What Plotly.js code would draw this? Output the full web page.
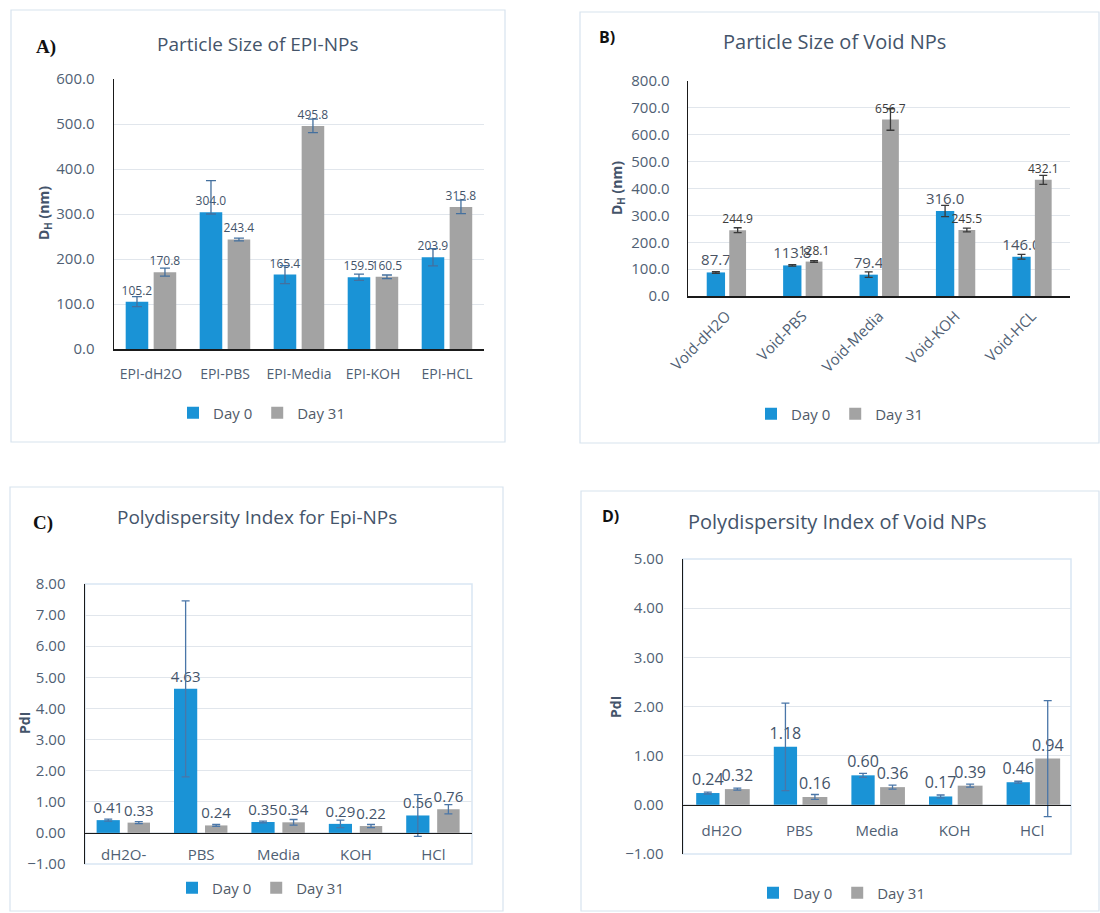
<!DOCTYPE html>
<html>
<head>
<meta charset="utf-8">
<script src="https://cdn.plot.ly/plotly-3.0.1.min.js"></script>
<style>
  html, body { margin: 0; padding: 0; background: #ffffff; }
  #chart { width: 1100px; height: 913px; }
</style>
</head>
<body>
<div id="chart"></div>
<script>
// ---- Data -------------------------------------------------------------
// A) Particle size of EPI-NPs (nm)
const catsA = ['EPI-dH2O', 'EPI-PBS', 'EPI-Media', 'EPI-KOH', 'EPI-HCL'];
const sizeEpiDay0 = [105.2, 304.0, 165.4, 159.5, 203.9];
const sizeEpiDay31 = [170.8, 243.4, 495.8, 160.5, 315.8];
const sizeEpiDay0ErrPlus = [11, 70, 20, 7, 19];
const sizeEpiDay0ErrMinus = [11, 4, 20, 7, 19];
const sizeEpiDay31Err = [9, 3, 15, 4, 15];

// B) Particle size of void NPs (nm)
const catsB = ['Void-dH2O', 'Void-PBS', 'Void-Media', 'Void-KOH', 'Void-HCL'];
const sizeVoidDay0 = [87.7, 113.8, 79.4, 316.0, 146.0];
const sizeVoidDay31 = [244.9, 128.1, 656.7, 245.5, 432.1];
const sizeVoidDay0Err = [3, 3, 10, 21, 9];
const sizeVoidDay31Err = [9, 3, 40, 7, 17];

// C) Polydispersity index of EPI-NPs
const catsC = ['dH2O-', 'PBS', 'Media', 'KOH', 'HCl'];
const pdiEpiDay0 = [0.41, 4.63, 0.35, 0.29, 0.56];
const pdiEpiDay31 = [0.33, 0.24, 0.34, 0.22, 0.76];
const pdiEpiDay0Err = [0.03, 2.83, 0.03, 0.12, 0.67];
const pdiEpiDay31Err = [0.03, 0.03, 0.09, 0.05, 0.15];

// D) Polydispersity index of void NPs
const catsD = ['dH2O', 'PBS', 'Media', 'KOH', 'HCl'];
const pdiVoidDay0 = [0.24, 1.18, 0.60, 0.17, 0.46];
const pdiVoidDay31 = [0.32, 0.16, 0.36, 0.39, 0.94];
const pdiVoidDay0Err = [0.02, 0.89, 0.04, 0.03, 0.02];
const pdiVoidDay31Err = [0.02, 0.05, 0.04, 0.03, 1.18];

const seriesNames = ['Day 0', 'Day 31'];

// ---- Styling ------------------------------------------------------------
const W = 1100, H = 913;
const FONT = 'Open Sans, sans-serif';
const SLATE = '#44546a';
const TICK = '#505f74';
const BLUE = '#1a93d6';
const GRAY = '#a3a3a3';
const GRID = '#e1e6ec';
const FRAME = '#d9e6f3';

// pixel helpers -> paper coordinates
const px = v => v / W;
const py = v => 1 - v / H;
const dom = (a, b, s) => s === 'x' ? [px(a), px(b)] : [py(b), py(a)];

function fmt(v, d) { return v.toFixed(d); }

function barPair(opt) {
  const common = {
    type: 'bar',
    xaxis: opt.xa, yaxis: opt.ya,
    legend: opt.legend,
    textposition: 'outside',
    cliponaxis: false,
    constraintext: 'none',
    hoverinfo: 'skip'
  };
  const t0 = Object.assign({}, common, {
    name: seriesNames[0],
    x: opt.cats, y: opt.d0,
    text: opt.d0.map(v => fmt(v, opt.dec)),
    textfont: { family: FONT, size: opt.lab0, color: opt.labColor0 },
    marker: { color: BLUE, line: { width: 0 } },
    width: opt.w0, offset: opt.o0,
    error_y: Object.assign({ type: 'data', color: opt.errColor, thickness: 1.3, width: opt.cap }, opt.e0)
  });
  const t1 = Object.assign({}, common, {
    name: seriesNames[1],
    x: opt.cats, y: opt.d31,
    text: opt.d31.map(v => fmt(v, opt.dec)),
    textfont: { family: FONT, size: opt.lab1, color: opt.labColor1 },
    marker: { color: GRAY, line: { width: 0 } },
    width: opt.w1, offset: opt.o1,
    error_y: Object.assign({ type: 'data', color: opt.errColor, thickness: 1.3, width: opt.cap }, opt.e1)
  });
  return [t0, t1];
}

const traces = []
  .concat(barPair({
    cats: catsA, d0: sizeEpiDay0, d31: sizeEpiDay31, dec: 1,
    e0: { symmetric: false, array: sizeEpiDay0ErrPlus, arrayminus: sizeEpiDay0ErrMinus },
    e1: { array: sizeEpiDay31Err },
    xa: 'x', ya: 'y', legend: 'legend',
    lab0: 12, lab1: 12, labColor0: SLATE, labColor1: SLATE,
    w0: 0.305, o0: -0.342, w1: 0.305, o1: 0.036, errColor: '#44709e', cap: 5
  }))
  .concat(barPair({
    cats: catsB, d0: sizeVoidDay0, d31: sizeVoidDay31, dec: 1,
    e0: { array: sizeVoidDay0Err }, e1: { array: sizeVoidDay31Err },
    xa: 'x2', ya: 'y2', legend: 'legend2',
    lab0: 15, lab1: 12, labColor0: '#4a5363', labColor1: '#3d3d3d',
    w0: 0.24, o0: -0.255, w1: 0.22, o1: 0.04, errColor: '#3a3a3a', cap: 4
  }))
  .concat(barPair({
    cats: catsC, d0: pdiEpiDay0, d31: pdiEpiDay31, dec: 2,
    e0: { array: pdiEpiDay0Err }, e1: { array: pdiEpiDay31Err },
    xa: 'x3', ya: 'y3', legend: 'legend3',
    lab0: 15, lab1: 15, labColor0: SLATE, labColor1: SLATE,
    w0: 0.30, o0: -0.35, w1: 0.29, o1: 0.05, errColor: '#4a76a8', cap: 4
  }))
  .concat(barPair({
    cats: catsD, d0: pdiVoidDay0, d31: pdiVoidDay31, dec: 2,
    e0: { array: pdiVoidDay0Err }, e1: { array: pdiVoidDay31Err },
    xa: 'x4', ya: 'y4', legend: 'legend4',
    lab0: 16, lab1: 16, labColor0: SLATE, labColor1: SLATE,
    w0: 0.30, o0: -0.33, w1: 0.32, o1: 0.04, errColor: '#4a76a8', cap: 4
  }));

// ---- Axes -------------------------------------------------------------
const domA = { x: dom(114, 484, 'x'), y: dom(79, 349, 'y') };
const domB = { x: dom(688, 1070, 'x'), y: dom(81, 296, 'y') };
const domC = { x: dom(85, 472, 'x'), y: dom(584, 864, 'y') };
const domD = { x: dom(683, 1071, 'x'), y: dom(559, 854, 'y') };

const rangeC = [-1, 8], rangeD = [-1, 5];
// paper position of the value-zero line inside a y domain
const zeroPos = (d, r) => d[0] + (0 - r[0]) / (r[1] - r[0]) * (d[1] - d[0]);

function catAxis(cats, d, extra) {
  return Object.assign({
    domain: d, type: 'category', categoryorder: 'array', categoryarray: cats,
    range: [-0.5, cats.length - 0.5], fixedrange: true,
    showgrid: false, zeroline: false,
    showline: true, linecolor: '#1a1a1a', linewidth: 1.5,
    ticks: '', tickfont: { family: FONT, size: 14, color: TICK }
  }, extra || {});
}
function valAxis(d, r, dt, fmtStr, extra) {
  return Object.assign({
    domain: d, range: r, dtick: dt, tick0: 0, tickformat: fmtStr, fixedrange: true,
    showgrid: true, gridcolor: GRID, gridwidth: 1,
    zeroline: false, showline: true, linecolor: '#1a1a1a', linewidth: 1.5,
    ticks: '', tickfont: { family: FONT, size: 15, color: TICK }
  }, extra || {});
}

// boundary and centre ticks along the zero line of the PdI panels
function tickAxis(n, d, pos, overlay, len) {
  const vals = [];
  for (let i = 0; i <= 2 * n; i++) vals.push(-0.5 + i * 0.5);
  return {
    domain: d, overlaying: overlay, anchor: 'free', position: pos,
    type: 'linear', range: [-0.5, n - 0.5], fixedrange: true,
    tickmode: 'array', tickvals: vals, showticklabels: false,
    ticks: 'outside', ticklen: len, tickcolor: '#1a1a1a', tickwidth: 1.3,
    showgrid: false, zeroline: false, showline: false
  };
}

const posC = zeroPos(domC.y, rangeC);
const posD = zeroPos(domD.y, rangeD);

const layout = {
  width: W, height: H,
  margin: { l: 0, r: 0, t: 0, b: 0 },
  paper_bgcolor: '#ffffff', plot_bgcolor: 'rgba(0,0,0,0)',
  barmode: 'overlay',
  font: { family: FONT, color: SLATE },
  xaxis: catAxis(catsA, domA.x, { anchor: 'y', ticklabelstandoff: 12 }),
  yaxis: valAxis(domA.y, [0, 600], 100, '.1f', { anchor: 'x', ticklabelstandoff: 15 }),
  xaxis2: catAxis(catsB, domB.x, { anchor: 'y2', tickangle: -45, ticklabelstandoff: 4,
    tickfont: { family: FONT, size: 15, color: TICK } }),
  yaxis2: valAxis(domB.y, [0, 800], 100, '.1f', { anchor: 'x2', ticklabelstandoff: 14 }),
  xaxis3: catAxis(catsC, domC.x, { anchor: 'free', position: posC, ticklabelstandoff: 8,
    tickfont: { family: FONT, size: 15, color: TICK } }),
  yaxis3: valAxis(domC.y, rangeC, 1, '.2f', { anchor: 'x3', ticklabelstandoff: 15 }),
  xaxis4: catAxis(catsD, domD.x, { anchor: 'free', position: posD, ticklabelstandoff: 12,
    tickfont: { family: FONT, size: 15, color: TICK } }),
  yaxis4: valAxis(domD.y, rangeD, 1, '.2f', { anchor: 'x4', ticklabelstandoff: 15 }),
  xaxis5: tickAxis(catsC.length, domC.x, posC, 'x3', 5),
  xaxis6: tickAxis(catsD.length, domD.x, posD, 'x4', 5),
  legend: legendAt(262, 413),
  legend2: legendAt(840, 414),
  legend3: legendAt(261, 888),
  legend4: legendAt(842, 893),
  shapes: [
    box(11, 10, 505, 442),
    box(580, 12, 1099, 443),
    box(10, 487, 503, 911),
    box(581, 491, 1099, 911),
    frame('x3', 'y3'),
    frame('x4', 'y4')
  ],
  annotations: [
    title('Particle Size of EPI-NPs', 258, 44, 19),
    title('Particle Size of Void NPs', 835, 42, 20),
    title('Polydispersity Index for Epi-NPs', 257, 517, 19),
    title('Polydispersity Index of Void NPs', 837, 521, 20),
    letter('A)', 46, 47, 'Liberation Serif, Times New Roman, serif', 19),
    letter('B)', 607, 37, FONT, 16),
    letter('C)', 43, 523, 'Liberation Serif, Times New Roman, serif', 19),
    letter('D)', 610, 516, FONT, 16),
    yTitle('<b>D<sub>H</sub> (nm)</b>', 45, 213),
    yTitle('<b>D<sub>H</sub> (nm)</b>', 617, 188),
    yTitle('<b>PdI</b>', 24, 723),
    yTitle('<b>PdI</b>', 615, 707)
  ]
};

function legendAt(x, y) {
  return {
    x: px(x), y: py(y), xanchor: 'center', yanchor: 'middle',
    orientation: 'h', bgcolor: 'rgba(0,0,0,0)',
    font: { family: FONT, size: 15, color: '#505a68' },
    itemwidth: 30, tracegroupgap: 0
  };
}
function box(x0, y0, x1, y1) {
  return { type: 'rect', xref: 'paper', yref: 'paper', layer: 'below',
    x0: px(x0), x1: px(x1), y0: py(y1), y1: py(y0),
    line: { color: '#d8e3ee', width: 1.2 }, fillcolor: 'rgba(0,0,0,0)' };
}
function frame(xa, ya) {
  return { type: 'rect', xref: xa + ' domain', yref: ya + ' domain', layer: 'below',
    x0: 0, x1: 1, y0: 0, y1: 1, line: { color: FRAME, width: 1.5 }, fillcolor: 'rgba(0,0,0,0)' };
}
function title(t, x, y, s) {
  return { text: t, xref: 'paper', yref: 'paper', x: px(x), y: py(y),
    xanchor: 'center', yanchor: 'middle', showarrow: false,
    font: { family: FONT, size: s, color: SLATE } };
}
function letter(t, x, y, f, s) {
  return { text: '<b>' + t + '</b>', xref: 'paper', yref: 'paper', x: px(x), y: py(y),
    xanchor: 'center', yanchor: 'middle', showarrow: false,
    font: { family: f, size: s, color: '#111111' } };
}
function yTitle(t, x, y) {
  return { text: t, xref: 'paper', yref: 'paper', x: px(x), y: py(y), textangle: -90,
    xanchor: 'center', yanchor: 'middle', showarrow: false,
    font: { family: FONT, size: 14, color: SLATE } };
}

Plotly.newPlot('chart', traces, layout, { staticPlot: true, displayModeBar: false });
</script>
</body>
</html>
